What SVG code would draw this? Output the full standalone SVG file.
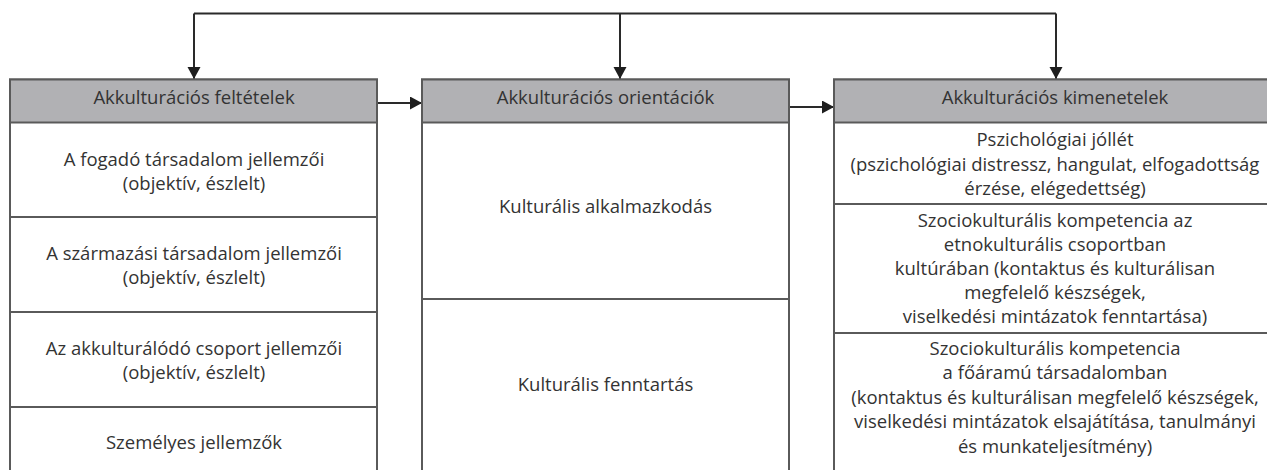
<svg xmlns="http://www.w3.org/2000/svg" width="1267" height="470" viewBox="0 0 1267 470">
<style>
.box{fill:#ffffff;stroke:#5a5a5a;stroke-width:2}
.hdr{fill:#b1b1b4;stroke:#5a5a5a;stroke-width:2}
.div{stroke:#5a5a5a;stroke-width:2}
.con{fill:none;stroke:#2a2a2a;stroke-width:2}
text{font-family:"Open Sans","Liberation Sans",sans-serif;font-size:18.5px;fill:#333333;text-anchor:middle}
</style>
<defs>
<marker id="arr" markerUnits="userSpaceOnUse" markerWidth="14" markerHeight="14" refX="12" refY="6.5" orient="auto">
<path d="M0,0 L12,6.5 L0,13 z" fill="#1e1e1e"/>
</marker>
</defs>
<rect width="1267" height="470" fill="#ffffff"/>
<g id="connectors">
<path class="con" d="M194,13.5 H1056"/>
<path class="con" d="M194,13.5 V79" marker-end="url(#arr)"/>
<path class="con" d="M620,13.5 V79" marker-end="url(#arr)"/>
<path class="con" d="M1056,13.5 V79" marker-end="url(#arr)"/>
<path class="con" d="M377,103 H422" marker-end="url(#arr)"/>
<path class="con" d="M789,107 H834" marker-end="url(#arr)"/>
</g>
<g id="node-feltetelek">
<rect class="box" x="10" y="79.5" width="367" height="400"/>
<rect class="hdr" x="10" y="79.5" width="367" height="43"/>
<line class="div" x1="10" y1="217" x2="377" y2="217"/>
<line class="div" x1="10" y1="312" x2="377" y2="312"/>
<line class="div" x1="10" y1="407" x2="377" y2="407"/>
<text x="194" y="104">Akkulturációs feltételek</text>
<text x="194" y="166">A fogadó társadalom jellemzői</text>
<text x="194" y="190">(objektív, észlelt)</text>
<text x="194" y="260">A származási társadalom jellemzői</text>
<text x="194" y="284">(objektív, észlelt)</text>
<text x="194" y="355">Az akkulturálódó csoport jellemzői</text>
<text x="194" y="379">(objektív, észlelt)</text>
<text x="194" y="449">Személyes jellemzők</text>
</g>
<g id="node-orientaciok">
<rect class="box" x="422" y="79.5" width="367" height="400"/>
<rect class="hdr" x="422" y="79.5" width="367" height="43"/>
<line class="div" x1="422" y1="299" x2="789" y2="299"/>
<text x="605.5" y="104">Akkulturációs orientációk</text>
<text x="605.5" y="213">Kulturális alkalmazkodás</text>
<text x="605.5" y="391">Kulturális fenntartás</text>
</g>
<g id="node-kimenetelek">
<rect class="box" x="834" y="79.5" width="445" height="400"/>
<rect class="hdr" x="834" y="79.5" width="445" height="43"/>
<line class="div" x1="834" y1="204" x2="1279" y2="204"/>
<line class="div" x1="834" y1="333" x2="1279" y2="333"/>
<text x="1055" y="104">Akkulturációs kimenetelek</text>
<text x="1055" y="146">Pszichológiai jóllét</text>
<text x="1055" y="171">(pszichológiai distressz, hangulat, elfogadottság</text>
<text x="1055" y="195">érzése, elégedettség)</text>
<text x="1055" y="227">Szociokulturális kompetencia az</text>
<text x="1055" y="251">etnokulturális csoportban</text>
<text x="1055" y="275">kultúrában (kontaktus és kulturálisan</text>
<text x="1055" y="299">megfelelő készségek,</text>
<text x="1055" y="323">viselkedési mintázatok fenntartása)</text>
<text x="1055" y="355">Szociokulturális kompetencia</text>
<text x="1055" y="379">a főáramú társadalomban</text>
<text x="1055" y="404">(kontaktus és kulturálisan megfelelő készségek,</text>
<text x="1055" y="428">viselkedési mintázatok elsajátítása, tanulmányi</text>
<text x="1055" y="453">és munkateljesítmény)</text>
</g>
</svg>
